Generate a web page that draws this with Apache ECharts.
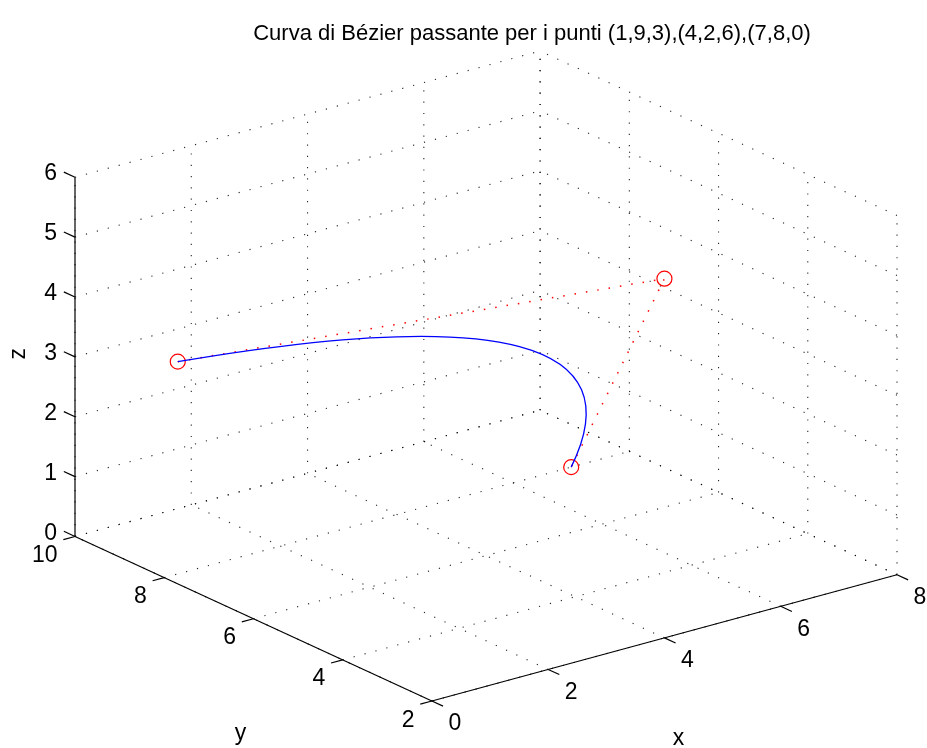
<!DOCTYPE html>
<html>
<head>
<meta charset="utf-8">
<title>Curva di Bézier</title>
<script src="https://cdn.jsdelivr.net/npm/echarts@6/dist/echarts.min.js"></script>
<style>
  html, body { margin: 0; padding: 0; background: #fff; }
  #chart { width: 927px; height: 748px; }
</style>
</head>
<body>
<div id="chart"></div>
<script>
// Control points of the quadratic Bézier curve
const ctrlX = [1, 4, 7];
const ctrlY = [9, 2, 8];
const ctrlZ = [3, 6, 0];

// Axis ranges and tick values
const xRange = [0, 8];
const yRange = [2, 10];
const zRange = [0, 6];
const xTicks = [0, 2, 4, 6, 8];
const yTicks = [2, 4, 6, 8, 10];
const zTicks = [0, 1, 2, 3, 4, 5, 6];

const titleText = 'Curva di Bézier passante per i punti (1,9,3),(4,2,6),(7,8,0)';
const axisNames = ['x', 'y', 'z'];

// Orthographic view: azimuth -37.5°, elevation 30°
const AZ = -37.5 * Math.PI / 180;
const EL = 30 * Math.PI / 180;

function project(x, y, z) {
  const u = (x - xRange[0]) / (xRange[1] - xRange[0]);
  const v = (y - yRange[0]) / (yRange[1] - yRange[0]);
  const w = (z - zRange[0]) / (zRange[1] - zRange[0]);
  const p = u * Math.cos(AZ) + v * Math.sin(AZ);
  const q = Math.sin(EL) * (-u * Math.sin(AZ) + v * Math.cos(AZ)) + Math.cos(EL) * w;
  return [p, q];
}

// Extent of the projected plot box
const corners = [];
[xRange[0], xRange[1]].forEach(x => [yRange[0], yRange[1]].forEach(y =>
  [zRange[0], zRange[1]].forEach(z => corners.push(project(x, y, z)))));
const pMin = Math.min(...corners.map(c => c[0]));
const pMax = Math.max(...corners.map(c => c[0]));
const qMin = Math.min(...corners.map(c => c[1]));
const qMax = Math.max(...corners.map(c => c[1]));

// Dotted grid on the floor and the two back walls
const gridSegs = [];
xTicks.forEach(x => {
  gridSegs.push([x, yRange[0], zRange[0], x, yRange[1], zRange[0]]);
  gridSegs.push([x, yRange[1], zRange[0], x, yRange[1], zRange[1]]);
});
yTicks.forEach(y => {
  gridSegs.push([xRange[0], y, zRange[0], xRange[1], y, zRange[0]]);
  gridSegs.push([xRange[1], y, zRange[0], xRange[1], y, zRange[1]]);
});
zTicks.forEach(z => {
  gridSegs.push([xRange[0], yRange[1], z, xRange[1], yRange[1], z]);
  gridSegs.push([xRange[1], yRange[0], z, xRange[1], yRange[1], z]);
});

// Solid axis lines and outward ticks
const tickX = 0.2, tickY = 0.25;
const axisSegs = [
  [xRange[0], yRange[0], zRange[0], xRange[1], yRange[0], zRange[0]],
  [xRange[0], yRange[0], zRange[0], xRange[0], yRange[1], zRange[0]],
  [xRange[0], yRange[1], zRange[0], xRange[0], yRange[1], zRange[1]]
];
xTicks.forEach(x => axisSegs.push([x, yRange[0], zRange[0], x, yRange[0] - tickY, zRange[0]]));
yTicks.forEach(y => axisSegs.push([xRange[0], y, zRange[0], xRange[0] - tickX, y, zRange[0]]));
zTicks.forEach(z => axisSegs.push([xRange[0], yRange[1], z, xRange[0], yRange[1] + tickY, z]));

// Tick labels: [x, y, z, text, align, verticalAlign, dy]
const labelFont = '23px "Liberation Sans", Arial, sans-serif';
const tickLabels = [];
xTicks.forEach(x => tickLabels.push([x, yRange[0] - 0.37, zRange[0], String(x), 'left', 'top', 4]));
yTicks.forEach(y => tickLabels.push([xRange[0] - 0.3, y, zRange[0], String(y), 'right', 'top', 3]));
zTicks.forEach(z => tickLabels.push([xRange[0], yRange[1] + 0.4, z, String(z), 'right', 'middle', 5]));

function segRender(style) {
  return function (params, api) {
    const a = api.coord(project(api.value(0), api.value(1), api.value(2)));
    const b = api.coord(project(api.value(3), api.value(4), api.value(5)));
    return {
      type: 'line',
      shape: { x1: a[0], y1: a[1], x2: b[0], y2: b[1] },
      style: style
    };
  };
}

const ctrlPoints = ctrlX.map((x, i) => project(x, ctrlY[i], ctrlZ[i]));

const chart = echarts.init(document.getElementById('chart'), null, { renderer: 'canvas' });

chart.setOption({
  animation: false,
  backgroundColor: '#ffffff',
  title: {
    text: titleText,
    left: 527,
    top: 18,
    textAlign: 'center',
    textStyle: {
      fontFamily: '"Liberation Sans", Arial, sans-serif',
      fontSize: 22,
      fontWeight: 'normal',
      color: '#000'
    }
  },
  grid: { left: 75, right: 30, top: 51, bottom: 47 },
  xAxis: { type: 'value', min: pMin, max: pMax, show: false },
  yAxis: { type: 'value', min: qMin, max: qMax, show: false },
  series: [
    {
      name: 'grid',
      type: 'custom',
      clip: false,
      z: 1,
      data: gridSegs,
      renderItem: segRender({ stroke: '#000', lineWidth: 1.1, lineDash: [1.2, 10.1], opacity: 0.85 })
    },
    {
      name: 'axes',
      type: 'custom',
      clip: false,
      z: 2,
      data: axisSegs,
      renderItem: segRender({ stroke: '#000', lineWidth: 1.2 })
    },
    {
      name: 'tickLabels',
      type: 'custom',
      clip: false,
      z: 2,
      data: tickLabels.map(t => [t[0], t[1], t[2]]),
      renderItem: function (params, api) {
        const t = tickLabels[params.dataIndex];
        const c = api.coord(project(t[0], t[1], t[2]));
        return {
          type: 'text',
          x: c[0],
          y: c[1] + t[6],
          style: { text: t[3], font: labelFont, fill: '#000', align: t[4], verticalAlign: t[5] }
        };
      }
    },
    {
      name: 'axisNames',
      type: 'custom',
      clip: false,
      z: 2,
      data: [0, 1, 2],
      renderItem: function (params, api) {
        const i = params.dataIndex;
        const xm = (xRange[0] + xRange[1]) / 2, ym = (yRange[0] + yRange[1]) / 2, zm = (zRange[0] + zRange[1]) / 2;
        const mids = [
          [xm, yRange[0], zRange[0], 14, 101, 0],
          [xRange[0], ym, zRange[0], -13, 115, 0],
          [xRange[0], yRange[1], zm, -56, -3, Math.PI / 2]
        ];
        const m = mids[i];
        const c = api.coord(project(m[0], m[1], m[2]));
        return {
          type: 'text',
          x: c[0] + m[3],
          y: c[1] + m[4],
          rotation: m[5],
          style: { text: axisNames[i], font: labelFont, fill: '#000', align: 'center', verticalAlign: 'middle' }
        };
      }
    },
    {
      name: 'control polygon',
      type: 'line',
      z: 3,
      data: ctrlPoints,
      symbol: 'circle',
      symbolSize: 15,
      showSymbol: true,
      itemStyle: { color: 'transparent', borderColor: '#ff0000', borderWidth: 1.2 },
      lineStyle: { color: '#ff0000', width: 1.5, type: [1.5, 10] }
    },
    {
      name: 'Bézier',
      type: 'custom',
      clip: false,
      z: 4,
      data: [0],
      renderItem: function (params, api) {
        const p0 = api.coord(ctrlPoints[0]);
        const p1 = api.coord(ctrlPoints[1]);
        const p2 = api.coord(ctrlPoints[2]);
        return {
          type: 'bezierCurve',
          shape: { x1: p0[0], y1: p0[1], cpx1: p1[0], cpy1: p1[1], x2: p2[0], y2: p2[1] },
          style: { stroke: '#0000ff', lineWidth: 1.3, fill: null }
        };
      }
    }
  ]
});
</script>
</body>
</html>
